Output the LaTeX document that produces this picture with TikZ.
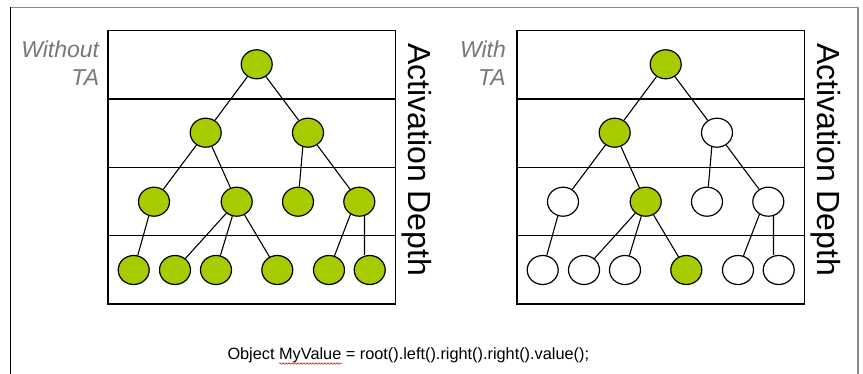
\documentclass[tikz,border=0pt]{standalone}
\usepackage{fontspec}
\setmainfont{Liberation Sans}
\usetikzlibrary{shapes.geometric,decorations.pathmorphing}
\definecolor{leafgreen}{HTML}{A6CC00}
\definecolor{labelgray}{HTML}{787878}
\definecolor{framegray}{HTML}{8A8A8A}
\tikzset{
  tn/.style={ellipse,draw=black,line width=1.2pt,minimum width=31pt,minimum height=29pt,inner sep=0pt},
  on/.style={tn,fill=leafgreen},
  off/.style={tn,fill=white},
  edge/.style={line width=1.1pt},
  boxline/.style={line width=1.3pt},
  sidelabel/.style={font=\fontsize{23}{27}\selectfont\itshape,text=labelgray,inner sep=0pt,anchor=base east},
  depthlabel/.style={font=\fontsize{32}{36}\selectfont,rotate=-90,inner sep=0pt,anchor=base west},
}
\begin{document}
\begin{tikzpicture}[x=1pt,y=-1pt]
\useasboundingbox (0,0) rectangle (863,374);
% outer frame
\draw[framegray,line width=1.6pt] (10,7.5) -- (858,7.5);
\draw[framegray,line width=2pt] (858,7.5) -- (858,374);
\draw[black,line width=1.2pt] (10.5,7.5) -- (10.5,374);

% left panel
\draw[boxline] (108,30.7) rectangle (395.7,304);
\draw[boxline] (108,99) -- (395.7,99) (108,167.3) -- (395.7,167.3) (108,235.7) -- (395.7,235.7);
\node[sidelabel] (wo1) at (99.3,58) {Without};
\node[sidelabel] (wo2) at (99.3,86) {TA};
\node[depthlabel] (dl) at (408,43) {Activation Depth};
\node[on] (r) at (256.7,64.3) {};
\node[on] (a) at (205.7,132.7) {};
\node[on] (b) at (308,132.7) {};
\node[on] (c) at (154,201.7) {};
\node[on] (d) at (236.7,201.7) {};
\node[on] (e) at (298,201.7) {};
\node[on] (f) at (359.3,201.7) {};
\node[on] (g) at (133.7,270) {};
\node[on] (h) at (175,270) {};
\node[on] (i) at (216,270) {};
\node[on] (j) at (277.3,270) {};
\node[on] (k) at (329,270) {};
\node[on] (l) at (369.7,270) {};
\draw[edge] (r) -- (a) (r) -- (b) (a) -- (c) (a) -- (d) (b.250) -- (e) (b) -- (f)
  (c.250) -- (g) (d) -- (h) (d) -- (i) (d) -- (j) (f.235) -- (k) (f.-70) -- (f.-70 |- l.north);

% right panel
\begin{scope}[xshift=409pt,name prefix=R-]
\draw[boxline] (108,30.7) rectangle (395.7,304);
\draw[boxline] (108,99) -- (395.7,99) (108,167.3) -- (395.7,167.3) (108,235.7) -- (395.7,235.7);
\node[sidelabel] (wi1) at (97,58) {With};
\node[sidelabel] (wi2) at (97,86) {TA};
\node[depthlabel] (dl) at (408,43) {Activation Depth};
\node[on] (r) at (256.7,64.3) {};
\node[on] (a) at (205.7,132.7) {};
\node[off] (b) at (308,132.7) {};
\node[off] (c) at (154,201.7) {};
\node[on] (d) at (236.7,201.7) {};
\node[off] (e) at (298,201.7) {};
\node[off] (f) at (359.3,201.7) {};
\node[off] (g) at (133.7,270) {};
\node[off] (h) at (175,270) {};
\node[off] (i) at (216,270) {};
\node[on] (j) at (277.3,270) {};
\node[off] (k) at (329,270) {};
\node[off] (l) at (369.7,270) {};
\draw[edge] (r) -- (a) (r) -- (b) (a) -- (c) (a) -- (d) (b.250) -- (e) (b) -- (f)
  (c.250) -- (g) (d) -- (h) (d) -- (i) (d) -- (j) (f.235) -- (k) (f.-70) -- (f.-70 |- l.north);
\end{scope}

% code line
\node[font=\fontsize{16.3}{19}\selectfont,inner sep=0pt,anchor=base west] (code) at (227.3,359.3) {Object MyValue = root().left().right().right().value();};
\coordinate (wv1) at (279,363.5);
\coordinate (wv2) at (342,363.5);
\draw[red!85!black,line width=0.5pt,decorate,decoration={snake,amplitude=0.8pt,segment length=3pt}] (wv1) -- (wv2);
\end{tikzpicture}
\end{document}
